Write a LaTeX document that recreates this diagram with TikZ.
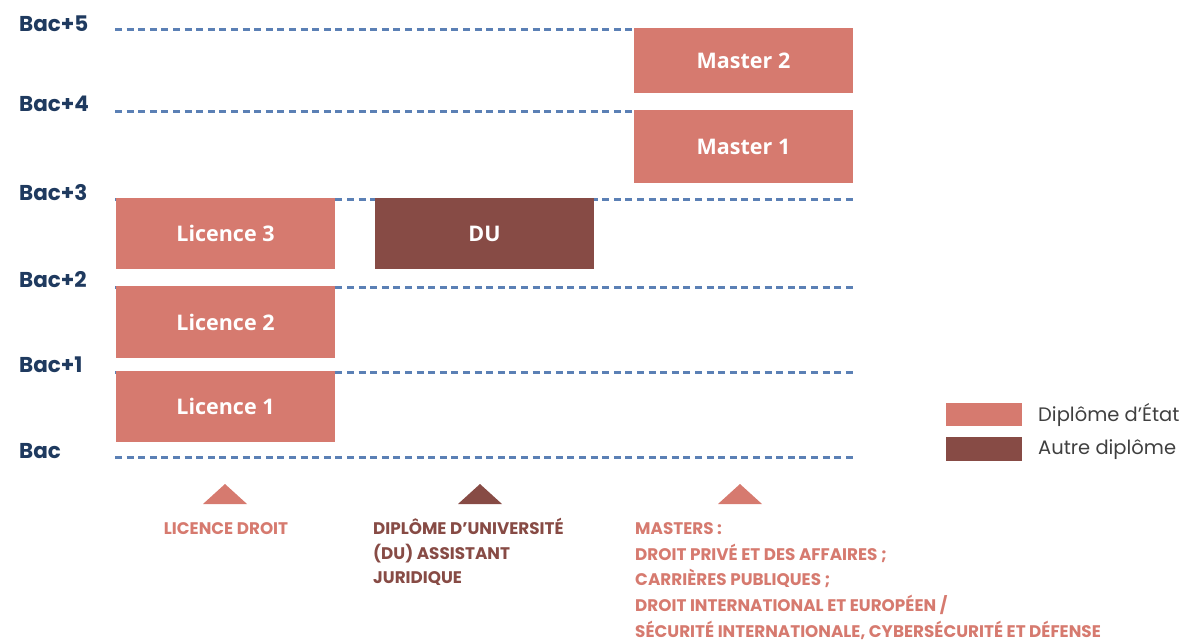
\documentclass[tikz,border=0pt]{standalone}
\usepackage{fontspec}
\setmainfont{Poppins}
\newfontfamily\boxfont{Open Sans}
\definecolor{etat}{HTML}{D67A6F}
\definecolor{autre}{HTML}{874B45}
\definecolor{dash}{HTML}{5B80B5}
\definecolor{navy}{HTML}{1F3A5F}
\definecolor{legtext}{HTML}{404040}
\begin{document}
\begin{tikzpicture}[x=1pt,y=-1pt,
  level/.style={draw=dash, line width=3pt, dash pattern=on 7pt off 4.6pt},
  lab/.style={anchor=west, text=navy, font=\fontsize{21.5}{21.5}\selectfont\bfseries, inner sep=0pt},
  etatbox/.style={fill=etat, draw=none, text=white, font=\boxfont\fontsize{21.5}{21.5}\selectfont\bfseries, minimum width=219pt, inner sep=0pt},
  autrebox/.style={fill=autre, draw=none, text=white, font=\boxfont\fontsize{21.5}{21.5}\selectfont\bfseries, minimum width=219pt, inner sep=0pt},
  caption/.style={anchor=base west, align=left, inner sep=0pt, font=\fontsize{16.8}{25.8}\selectfont\bfseries},
  legend/.style={anchor=west, inner sep=0pt, text=legtext, font=\fontsize{19.5}{19.5}\selectfont}
]
\useasboundingbox (0,0) rectangle (1195,643);
% level lines
\coordinate (l5a) at (115,29);  \coordinate (l5b) at (853,29);
\coordinate (l4a) at (115,111); \coordinate (l4b) at (853,111);
\coordinate (l3a) at (115,199); \coordinate (l3b) at (853,199);
\coordinate (l2a) at (115,287); \coordinate (l2b) at (853,287);
\coordinate (l1a) at (115,372); \coordinate (l1b) at (853,372);
\coordinate (l0a) at (115,457); \coordinate (l0b) at (853,457);
\foreach \i in {0,...,5} \draw[level] (l\i a) -- (l\i b);
% level labels
\node[lab] (b5) at (19,24) {Bac+5};
\node[lab] (b4) at (19,104) {Bac+4};
\node[lab] (b3) at (19,193) {Bac+3};
\node[lab] (b2) at (19,280) {Bac+2};
\node[lab] (b1) at (19,365) {Bac+1};
\node[lab] (b0) at (19,451) {Bac};
% boxes
\node[etatbox, minimum height=65pt] (m2) at (743.5,60.5) {Master 2};
\node[etatbox, minimum height=73pt] (m1) at (743.5,146.5) {Master 1};
\node[etatbox, minimum height=71pt] (lic3) at (225.5,233.5) {Licence 3};
\node[autrebox, minimum height=71pt] (du) at (484.5,233.5) {DU};
\node[etatbox, minimum height=72pt] (lic2) at (225.5,322) {Licence 2};
\node[etatbox, minimum height=71pt] (lic1) at (225.5,406.5) {Licence 1};
% triangles
\coordinate (t1) at (225,484); \coordinate (t2) at (480,484); \coordinate (t3) at (740,484);
\fill[etat] (t1) -- ++(22,20) -- ++(-44,0) -- cycle;
\fill[autre] (t2) -- ++(22,20) -- ++(-44,0) -- cycle;
\fill[etat] (t3) -- ++(22,20) -- ++(-44,0) -- cycle;
% captions
\node[caption, anchor=base, text=etat] (c1) at (226,534.5) {LICENCE DROIT};
\node[caption, text=autre, font=\fontsize{16.8}{24.5}\selectfont\bfseries] (c2) at (373,583.5) {DIPLÔME D’UNIVERSITÉ\\(DU) ASSISTANT\\JURIDIQUE};
\node[caption, text=etat] (c3) at (635,637.5) {MASTERS :\\DROIT PRIVÉ ET DES AFFAIRES ;\\CARRIÈRES PUBLIQUES ;\\DROIT INTERNATIONAL ET EUROPÉEN /\\SÉCURITÉ INTERNATIONALE, CYBERSÉCURITÉ ET DÉFENSE};
% legend
\node[fill=etat, minimum width=76pt, minimum height=23pt, inner sep=0pt] (le) at (984,414.5) {};
\node[fill=autre, minimum width=76pt, minimum height=24pt, inner sep=0pt] (la) at (984,449) {};
\node[legend] (lte) at (1038,415) {Diplôme d’État};
\node[legend] (lta) at (1038,450) {Autre diplôme};
\end{tikzpicture}
\end{document}
